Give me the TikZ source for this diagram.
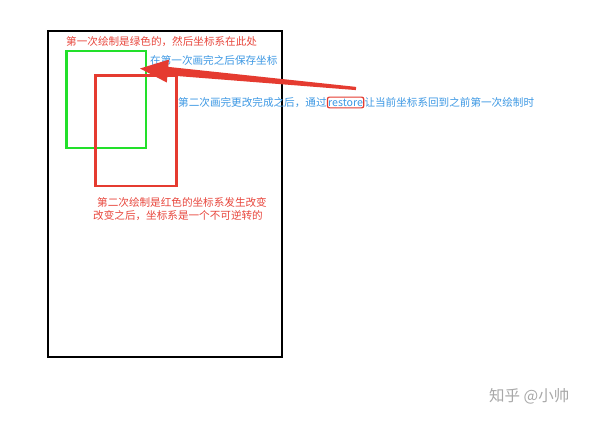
\documentclass[tikz,border=0pt]{standalone}
\usepackage{fontspec}
\setmainfont{Noto Sans CJK SC}
\usetikzlibrary{calc}
\definecolor{tred}{HTML}{E8463C}
\definecolor{tblue}{HTML}{3C98E4}
\definecolor{rgreen}{HTML}{22E02A}
\definecolor{rred}{HTML}{E53B30}
\definecolor{wm}{HTML}{A8A8A8}
\tikzset{
  lbl/.style={inner sep=0pt, anchor=west, font=\fontsize{10.6}{13}\selectfont},
  redlbl/.style={lbl, text=tred},
  bluelbl/.style={lbl, text=tblue},
}
\begin{document}
\begin{tikzpicture}[x=1pt,y=-1pt]
\useasboundingbox[fill=white] (0,0) rectangle (600,422);
% frames
\draw[line width=2.6pt, black] (48,31) rectangle (282,357);
\draw[line width=2.4pt, rgreen] (66.5,51) rectangle (146,148);
\draw[line width=2.2pt, rred] (95.5,75.5) rectangle (176.5,186);
% texts
\node[redlbl] (t1) at (66,42) {第一次绘制是绿色的，然后坐标系在此处};
\node[bluelbl] (t2) at (150,60.5) {在第一次画完之后保存坐标};
\node[bluelbl] (t3a) at (178,102.5) {第二次画完更改完成之后，通过};
\node[lbl, text=tblue, anchor=west, inner xsep=0.8pt, inner ysep=1.6pt, draw=rred, line width=1.2pt, rounded corners=2pt] (rs) at (t3a.east) {restore};
\node[bluelbl] (t3c) at (rs.east) {让当前坐标系回到之前第一次绘制时};
\node[redlbl] (t4a) at (97,202.5) {第二次绘制是红色的坐标系发生改变};
\node[redlbl] (t4b) at (93,215.5) {改变之后，坐标系是一个不可逆转的};
\node[lbl, text=wm, font=\fontsize{15.5}{18}\selectfont] (wmk) at (489,396) {知乎 @小帅};
% arrow
\coordinate (tail) at (356,88.5);
\coordinate (tip) at (140,68.5);
\coordinate (hb) at ($(tip)!28pt!(tail)$);
\fill[rred] ($(tail)!1.6pt!90:(tip)$) -- ($(hb)!4.2pt!90:(tip)$) -- ($(hb)!11.5pt!90:(tip)$) -- (tip)
  -- ($(hb)!11.5pt!-90:(tip)$) -- ($(hb)!4.2pt!-90:(tip)$) -- ($(tail)!1.6pt!-90:(tip)$) -- cycle;
\end{tikzpicture}
\end{document}
